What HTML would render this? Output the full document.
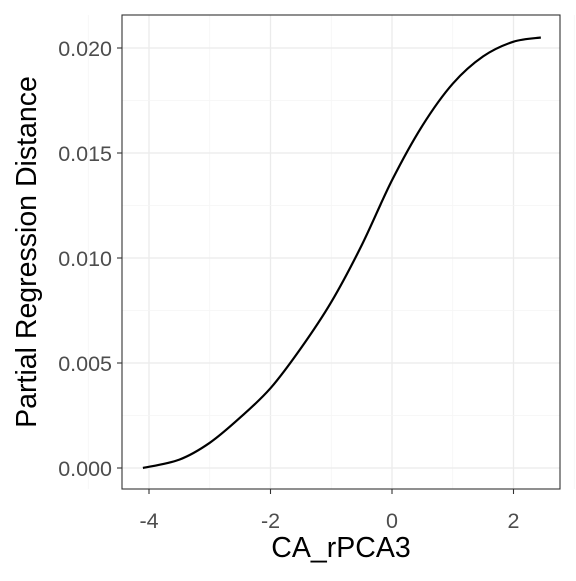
<!DOCTYPE html>
<html><head><meta charset="utf-8"><style>
body{margin:0;background:#fff}
svg text{font-family:"Liberation Sans",sans-serif}
</style></head><body>
<svg id="chart" width="576" height="576" viewBox="0 0 576 576" xmlns="http://www.w3.org/2000/svg">
<rect x="0" y="0" width="576" height="576" fill="#fff"/>
<g id="grid"></g>
<g id="series"></g>
<rect x="122" y="15" width="438" height="474" fill="none" stroke="#333" stroke-width="1.1"/>
<g id="axes"></g>
<text x="341" y="557" text-anchor="middle" font-size="28.5" fill="#000">CA_rPCA3</text>
<text transform="translate(36,252) rotate(-90)" text-anchor="middle" font-size="28.5" fill="#000">Partial Regression Distance</text>
</svg>
<script>
const xs = [-4.1,-3.5,-3,-2.5,-2,-1.5,-1,-0.5,0,0.5,1,1.5,2,2.45];
const ys = [0,0.0004,0.0012,0.0024,0.0038,0.0057,0.0079,0.0106,0.0137,0.0163,0.0183,0.0196,0.0203,0.0205];
const xTicks = [-4,-2,0,2];
const yTicks = [0,0.005,0.010,0.015,0.020];
const yLabels = ["0.000","0.005","0.010","0.015","0.020"];
const NS="http://www.w3.org/2000/svg";
const L=122,R=560,T=15,B=489;
const sx=v=>392+v*60.75;
const sy=v=>468-v*21000;
function mk(t,a,p){const e=document.createElementNS(NS,t);for(const k in a)e.setAttribute(k,a[k]);p.appendChild(e);return e;}
const grid=document.getElementById('grid'),axes=document.getElementById('axes'),ser=document.getElementById('series');
{const m=mk('line',{x1:sx(-5),x2:sx(-5),y1:T,y2:B,stroke:'#f4f4f4','stroke-width':0.7},grid);
 }
for(let i=0;i<xTicks.length;i++){
 const x=sx(xTicks[i]);
 const g=mk('line',{x1:x,x2:x,y1:T,y2:B,stroke:'#ebebeb','stroke-width':1.3},grid);
 
 const m=mk('line',{x1:x+60.75,x2:x+60.75,y1:T,y2:B,stroke:'#f4f4f4','stroke-width':0.7},grid);
 
 const tk=mk('line',{x1:x,x2:x,y1:B,y2:B+5,stroke:'#333','stroke-width':1.1},axes);
 
 const t=mk('text',{x:x,y:B+39,'text-anchor':'middle','font-size':21.5,fill:'#4d4d4d'},axes);
 t.textContent=xTicks[i];
 
}
for(let i=0;i<yTicks.length;i++){
 const y=sy(yTicks[i]);
 const g=mk('line',{x1:L,x2:R,y1:y,y2:y,stroke:'#ebebeb','stroke-width':1.3},grid);
 
 if(i<yTicks.length-1){const m=mk('line',{x1:L,x2:R,y1:y-52.5,y2:y-52.5,stroke:'#f4f4f4','stroke-width':0.7},grid);
 }
 const tk=mk('line',{x1:L-5,x2:L,y1:y,y2:y,stroke:'#333','stroke-width':1.1},axes);
 
 const t=mk('text',{x:L-10,y:y+8,'text-anchor':'end','font-size':21.5,fill:'#4d4d4d'},axes);
 t.textContent=yLabels[i];
 
}
const P=xs.map((x,i)=>[sx(x),sy(ys[i])]);
let d='M'+P[0][0]+','+P[0][1];
for(let i=0;i<P.length-1;i++){
 const p0=P[Math.max(0,i-1)],p1=P[i],p2=P[i+1],p3=P[Math.min(P.length-1,i+2)];
 d+=' C'+(p1[0]+(p2[0]-p0[0])/6)+','+(p1[1]+(p2[1]-p0[1])/6)+' '+(p2[0]-(p3[0]-p1[0])/6)+','+(p2[1]-(p3[1]-p1[1])/6)+' '+p2[0]+','+p2[1];
}
const line=mk('path',{d:d,fill:'none',stroke:'#000','stroke-width':2.2},ser);


</script>
</body></html>
